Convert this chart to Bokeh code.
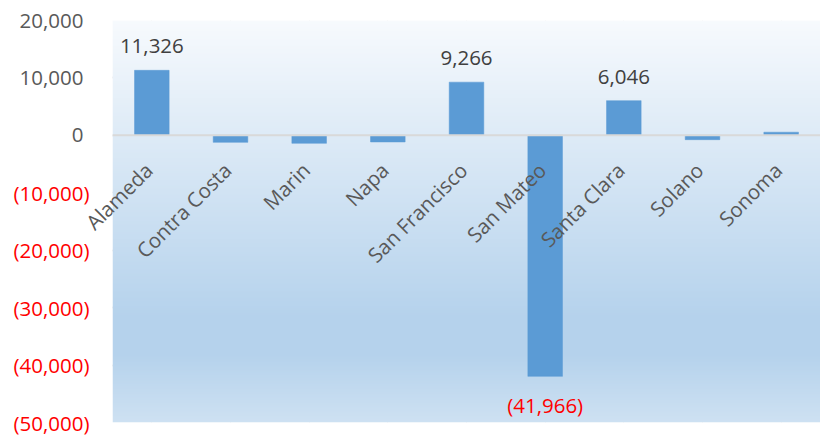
import numpy as np
from bokeh.plotting import figure
from bokeh.models import ColumnDataSource, FactorRange, Range1d, Span, Grid, FixedTicker
from bokeh.core.properties import value
from bokeh.embed import file_html
from bokeh.resources import INLINE

# ---- data ----
counties = ["Alameda", "Contra Costa", "Marin", "Napa", "San Francisco",
            "San Mateo", "Santa Clara", "Solano", "Sonoma"]
change = [11326, -1220, -1390, -1150, 9266, -41966, 6046, -750, 550]
data_labels = ["11,326", "", "", "", "9,266", "(41,966)", "6,046", "", ""]
y_ticks = [20000, 10000, 0, -10000, -20000, -30000, -40000, -50000]
y_tick_labels = ["20,000", "10,000", "0", "(10,000)", "(20,000)",
                 "(30,000)", "(40,000)", "(50,000)"]

FONT = value("Open Sans")
FS = "20.5px"
GRAY = "#595959"
RED = "#FF0000"
BAR = "#5B9BD5"

p = figure(width=820, height=435, output_backend="svg", toolbar_location=None,
           x_range=FactorRange(*counties), y_range=Range1d(-50000, 20000),
           x_axis_location=None, y_axis_location=None,
           min_border_left=112, min_border_right=0, min_border_top=20, min_border_bottom=13)
p.outline_line_color = None
p.background_fill_color = None
p.border_fill_color = "white"

# gradient background (Excel light gradient, accent 1)
stops = [(0.0, (247, 250, 253)), (0.74, (181, 210, 236)),
         (0.83, (181, 210, 236)), (1.0, (206, 225, 242))]
N = 400
st = np.array([s[0] for s in stops])
cols = np.array([s[1] for s in stops], dtype=float)
t = 1.0 - (np.arange(N) + 0.5) / N  # row 0 is bottom
rgb = np.stack([np.interp(t, st, cols[:, k]) for k in range(3)], axis=1)
img = np.empty((N, 1), dtype=np.uint32)
view = img.view(dtype=np.uint8).reshape((N, 1, 4))
view[:, 0, 0] = rgb[:, 0].round()
view[:, 0, 1] = rgb[:, 1].round()
view[:, 0, 2] = rgb[:, 2].round()
view[:, 0, 3] = 255
p.image_rgba(image=[img], x=0, y=-50000, dw=len(counties), dh=70000)

grid = Grid(dimension=1, ticker=FixedTicker(ticks=y_ticks),
            grid_line_color="#d9d9d9", grid_line_width=2)
p.add_layout(grid, "center")

src = ColumnDataSource(dict(county=counties, change=change))
p.vbar(x="county", top="change", bottom=0, width=0.44, source=src,
       fill_color=BAR, line_color=BAR, line_width=0.5)

p.add_layout(Span(location=0, dimension="width", line_color="#d9d9d9", line_width=2))

# category labels (rotated, hanging from the zero line)
p.text(x="county", y=0, text="county", source=src, angle=np.pi / 4,
       text_align="right", text_baseline="top", x_offset=-13, y_offset=21,
       text_font=FONT, text_font_size=FS, text_color=GRAY, level="annotation")

# data labels
lab = [(c, v, l) for c, v, l in zip(counties, change, data_labels) if l]
lsrc = ColumnDataSource(dict(
    county=[a[0] for a in lab], change=[a[1] for a in lab], text=[a[2] for a in lab],
    color=["#404040" if a[1] >= 0 else RED for a in lab],
    yoff=[-24 if a[1] >= 0 else 29 for a in lab]))
p.text(x="county", y="change", text="text", source=lsrc, y_offset="yoff",
       text_align="center", text_baseline="alphabetic",
       text_font=FONT, text_font_size=FS, text_color="color", level="annotation")

# y tick labels (accounting format: negatives in red parentheses)
tsrc = ColumnDataSource(dict(
    y=y_ticks, text=y_tick_labels,
    color=[GRAY if v >= 0 else RED for v in y_ticks],
    xoff=[-29 if v >= 0 else -23 for v in y_ticks]))
p.text(x=0, y="y", text="text", source=tsrc, x_offset="xoff",
       text_align="right", text_baseline="middle",
       text_font=FONT, text_font_size=FS, text_color="color", level="annotation")

open("out.html", "w").write(file_html(p, INLINE))
